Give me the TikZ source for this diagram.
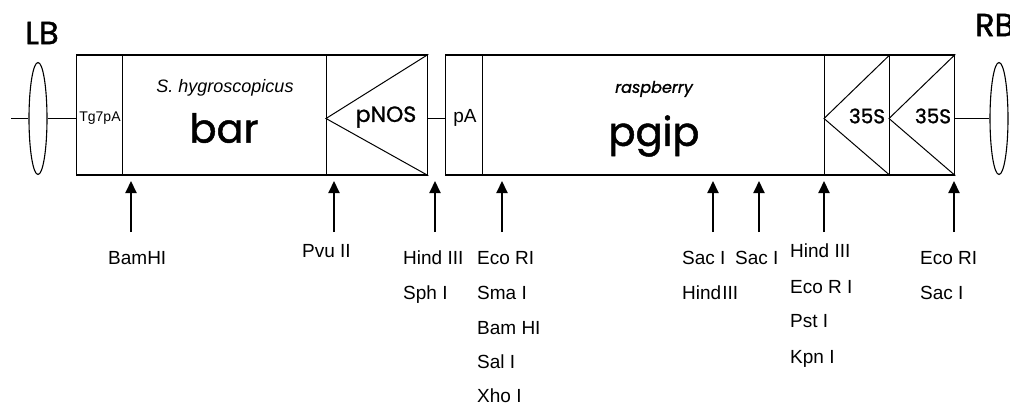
\documentclass[tikz,border=0pt]{standalone}
\usepackage{fontspec}
\setmainfont{Liberation Sans}
\newfontfamily\comic{Poppins}[FakeBold=1.2]
\usetikzlibrary{shapes.geometric,arrows.meta}
\tikzset{
  seg/.style={draw, line width=1.3pt, inner sep=0pt, minimum height=120pt, anchor=west},
  border/.style={draw, ellipse, line width=1.1pt, minimum width=18pt, minimum height=112pt, inner sep=0pt},
  wire/.style={line width=1.3pt},
  tri/.style={line width=1pt},
  site/.style={line width=2pt, -{Triangle[width=11pt,length=12pt]}},
  lab/.style={font=\fontsize{19}{22}\selectfont, anchor=base west, inner sep=0pt},
  big/.style={font=\comic\fontsize{40}{44}\selectfont, inner sep=0pt},
  mid/.style={font=\comic\fontsize{22}{24}\selectfont, inner sep=0pt},
  lbrb/.style={font=\comic\fontsize{32}{34}\selectfont, inner sep=0pt}
}
\begin{document}
\begin{tikzpicture}[x=1pt,y=-1pt]
\useasboundingbox (0,0) rectangle (1010,407);
% row line reference
\coordinate (row) at (0,118.5);
% border sequences
\node[border] (lb) at (38,118.5) {};
\node[border] (rb) at (999,118.5) {};
\node[lbrb] (lbt) at (42,33) {LB};
\node[lbrb, anchor=west] (rbt) at (975,25) {RB};
% segments
\node[seg, minimum width=46pt] (tg) at (76,115) {};
\node[seg, minimum width=204pt] (bar) at (122,115) {};
\node[seg, minimum width=101pt] (pnos) at (326,115) {};
\node[seg, minimum width=37pt] (pa) at (445,115) {};
\node[seg, minimum width=342pt] (pgip) at (482,115) {};
\node[seg, minimum width=65pt] (sa) at (824,115) {};
\node[seg, minimum width=65pt] (sb) at (889,115) {};
% wires
\coordinate (lend) at (11,118.5);
\draw[wire] (lend) -- (lb.west);
\draw[wire] (lb.east) -- (tg.west |- row);
\draw[wire] (pnos.east |- row) -- (pa.west |- row);
\draw[wire] (sb.east |- row) -- (rb.west);
% promoter triangles
\draw[tri] (pnos.north east) -- (pnos.west |- row) -- (pnos.south east);
\draw[tri] (sa.north east) -- (sa.west |- row) -- (sa.south east);
\draw[tri] (sb.north east) -- (sb.west |- row) -- (sb.south east);
% texts in segments
\node[font=\fontsize{14}{16}\selectfont, inner sep=0pt] (tgt) at (100,118) {Tg7pA};
\node[font=\itshape\fontsize{18}{20}\selectfont, inner sep=0pt] (sh) at (225,88) {S. hygroscopicus};
\node[big] (bart) at (224,128) {bar};
\node[mid] (pnost) at (386,117) {pNOS};
\node[font=\fontsize{19}{22}\selectfont, inner sep=0pt] (pat) at (465,118) {pA};
\node[font=\comic\itshape\fontsize{16}{18}\selectfont, inner sep=0pt] (rasp) at (654,89) {raspberry};
\node[big] (pgipt) at (654,136) {pgip};
\node[mid, font=\comic\fontsize{20}{22}\selectfont] (s1) at (867,116) {35S};
\node[mid, font=\comic\fontsize{20}{22}\selectfont] (s2) at (933,116) {35S};
% restriction sites
\foreach \n/\x in {a/131,b/334,c/435,d/502,e/713,f/759,g/824,h/954}{
  \coordinate (t\n) at (\x,232);
  \coordinate (h\n) at (\x,181);
  \draw[site] (t\n) -- (h\n);
}
% labels
\node[lab] (l1) at (108,264) {BamHI};
\node[lab] (l2) at (302,257) {Pvu II};
\node[lab] (l3) at (403,264) {Hind III};
\node[lab] (l4) at (403,299) {Sph I};
\node[lab] (l5) at (477,264) {Eco RI};
\node[lab] (l6) at (477,299) {Sma I};
\node[lab] (l7) at (477,334) {Bam HI};
\node[lab] (l8) at (477,368) {Sal I};
\node[lab] (l9) at (477,402) {Xho I};
\node[lab] (l10) at (682,264) {Sac I};
\node[lab] (l11) at (682,299) {Hind\kern1pt III};
\node[lab] (l12) at (735,264) {Sac I};
\node[lab] (l13) at (790,257) {Hind III};
\node[lab] (l14) at (790,293) {Eco R I};
\node[lab] (l15) at (790,327) {Pst I};
\node[lab] (l16) at (790,363) {Kpn I};
\node[lab] (l17) at (920,264) {Eco RI};
\node[lab] (l18) at (920,299) {Sac I};
\end{tikzpicture}
\end{document}
